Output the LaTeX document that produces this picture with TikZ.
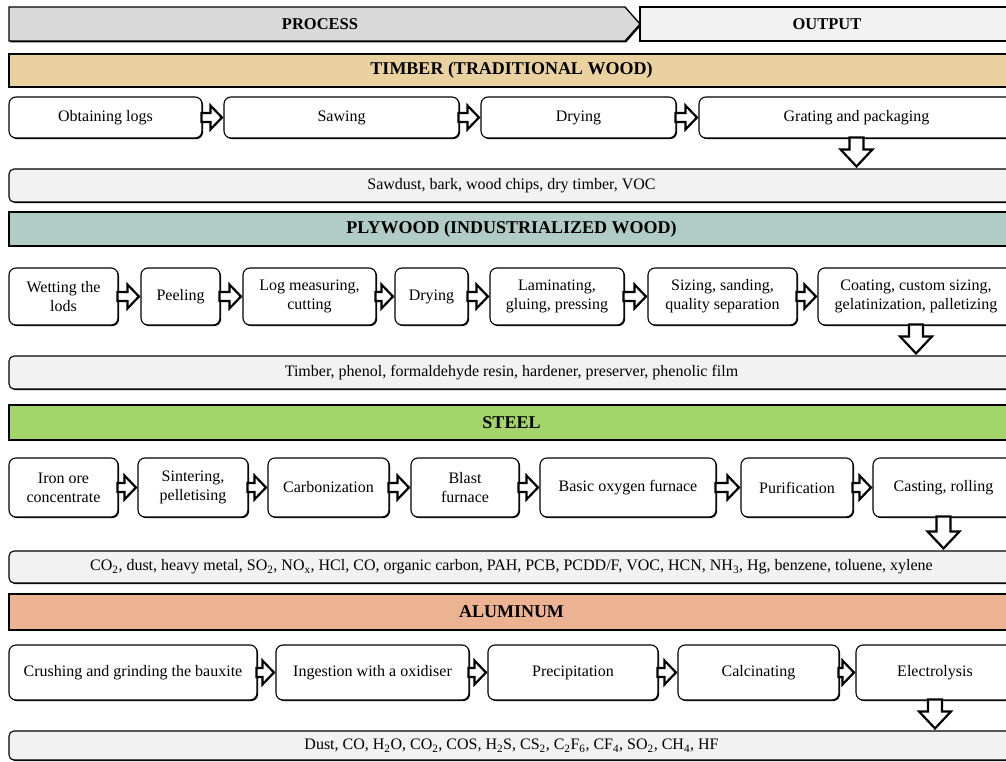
\documentclass[tikz,border=0pt]{standalone}
\usepackage{fontspec}
\setmainfont{Liberation Serif}
\usetikzlibrary{calc,shadows}

\definecolor{processgrey}{HTML}{D9D9D9}
\definecolor{outputgrey}{HTML}{F2F2F2}
\definecolor{timbertan}{HTML}{E9D1A0}
\definecolor{plywoodgreen}{HTML}{B0CCC4}
\definecolor{steelgreen}{HTML}{A4D56B}
\definecolor{aluorange}{HTML}{ECB393}

\tikzset{
  stepbox/.style={draw, fill=white, rounded corners=7pt, line width=1.1pt,
    drop shadow={shadow xshift=1.1pt, shadow yshift=-1.1pt, fill=black, opacity=1},
    align=center, inner sep=2pt, font=\fontsize{16}{19}\selectfont},
  outbox/.style={stepbox, fill=outputgrey, rounded corners=5pt},
  bar/.style={draw, line width=1.3pt,
    drop shadow={shadow xshift=1.3pt, shadow yshift=-1.3pt, fill=black, opacity=1},
    font=\bfseries\fontsize{18}{20}\selectfont},
  blockarrow/.style={draw, fill=white, line width=2.2pt, line join=miter}
}

\newcommand{\blockright}[2]{%
  \path[blockarrow] let \p1=(#1.east), \p2=(#2.west) in
    (\x1-1pt,\y1+4.5pt) -- (\x2-13pt,\y1+4.5pt) -- (\x2-13pt,\y1+12pt)
    -- (\x2-1.5pt,\y1) -- (\x2-13pt,\y1-12pt) -- (\x2-13pt,\y1-4.5pt)
    -- (\x1-1pt,\y1-4.5pt) -- cycle;}
\newcommand{\blockdown}[2]{%
  \path[blockarrow] let \p1=(#1.south), \p2=(#2.north) in
    (\x1-7pt,\y1+1pt) -- (\x1-7pt,\y2+19pt) -- (\x1-16pt,\y2+19pt)
    -- (\x1,\y2+2pt) -- (\x1+16pt,\y2+19pt) -- (\x1+7pt,\y2+19pt)
    -- (\x1+7pt,\y1+1pt) -- cycle;}

\begin{document}
\begin{tikzpicture}[x=1pt,y=-1pt]
\useasboundingbox (0,0) rectangle (1006,762);
\clip (0,0) rectangle (1006,762);

% header
\draw[bar, fill=processgrey] (9,7) -- (625,7) -- (640,24) -- (625,41) -- (9,41) -- cycle;
\node[font=\bfseries\fontsize{16.5}{19}\selectfont] (process) at (320,24) {PROCESS};
\node[bar, fill=outputgrey, minimum width=374pt, minimum height=34pt, font=\bfseries\fontsize{16.5}{19}\selectfont] (output) at (827,24) {OUTPUT};

% material bars
\node[bar, fill=timbertan, minimum width=1005pt, minimum height=33pt] (timber) at (511.5,70.5) {TIMBER (TRADITIONAL WOOD)};
\node[bar, fill=plywoodgreen, minimum width=1005pt, minimum height=34pt] (plywood) at (511.5,229) {PLYWOOD (INDUSTRIALIZED WOOD)};
\node[bar, fill=steelgreen, minimum width=1005pt, minimum height=35pt] (steel) at (511.5,422.5) {STEEL};
\node[bar, fill=aluorange, minimum width=1005pt, minimum height=36pt] (aluminum) at (511.5,612) {ALUMINUM};

% process steps
\foreach \l/\r/\n/\t in {9/202/t1/{Obtaining logs}, 224/459/t2/Sawing, 481/676/t3/Drying, 699/1014/t4/{Grating and packaging}}{
    \node[stepbox, minimum width=\r pt-\l pt, minimum height=41pt] (\n) at ({(\l+\r)/2},117.5) {\t};
}
\foreach \l/\r/\n/\t in {9/118/p1/{Wetting the\\lods}, 141/220/p2/Peeling, 243/376/p3/{Log measuring,\\cutting}, 395/468/p4/Drying, 490/624/p5/{Laminating,\\gluing, pressing}, 648/797/p6/{Sizing, sanding,\\quality separation}, 818/1014/p7/{Coating, custom sizing,\\gelatinization, palletizing}}{
    \node[stepbox, minimum width=\r pt-\l pt, minimum height=57pt] (\n) at ({(\l+\r)/2},296.5) {\t};
}
\foreach \l/\r/\n/\t in {9/118/s1/{Iron ore\\concentrate}, 138/248/s2/{Sintering,\\pelletising}, 268/389/s3/Carbonization, 411/519/s4/{Blast\\furnace}, 540/716/s5/{Basic oxygen furnace}, 741/853/s6/Purification, 873/1014/s7/{Casting, rolling}}{
    \node[stepbox, minimum width=\r pt-\l pt, minimum height=59pt] (\n) at ({(\l+\r)/2},487.5) {\t};
}
\foreach \l/\r/\n/\t in {9/257/a1/{Crushing and grinding the bauxite}, 276/469/a2/{Ingestion with a oxidiser}, 488/658/a3/Precipitation, 678/839/a4/Calcinating, 856/1014/a5/Electrolysis}{
    \node[stepbox, minimum width=\r pt-\l pt, minimum height=55pt] (\n) at ({(\l+\r)/2},672.5) {\t};
}

% outputs
\node[outbox, minimum width=1005pt, minimum height=33pt] (o1) at (511.5,185.5) {Sawdust, bark, wood chips, dry timber, VOC};
\node[outbox, minimum width=1005pt, minimum height=33pt] (o2) at (511.5,372.5) {Timber, phenol, formaldehyde resin, hardener, preserver, phenolic film};
\node[outbox, minimum width=1005pt, minimum height=32pt] (o3) at (511.5,567) {CO\textsubscript{2}, dust, heavy metal, SO\textsubscript{2}, NO\textsubscript{x}, HCl, CO, organic carbon, PAH, PCB, PCDD/F, VOC, HCN, NH\textsubscript{3}, Hg, benzene, toluene, xylene};
\node[outbox, minimum width=1005pt, minimum height=29pt] (o4) at (511.5,745.5) {Dust, CO, H\textsubscript{2}O, CO\textsubscript{2}, COS, H\textsubscript{2}S, CS\textsubscript{2}, C\textsubscript{2}F\textsubscript{6}, CF\textsubscript{4}, SO\textsubscript{2}, CH\textsubscript{4}, HF};

% arrows
\foreach \a/\b in {t1/t2,t2/t3,t3/t4,p1/p2,p2/p3,p3/p4,p4/p5,p5/p6,p6/p7,s1/s2,s2/s3,s3/s4,s4/s5,s5/s6,s6/s7,a1/a2,a2/a3,a3/a4,a4/a5}{
    \blockright{\a}{\b}
}
\blockdown{t4}{o1}
\blockdown{p7}{o2}
\blockdown{s7}{o3}
\blockdown{a5}{o4}

\end{tikzpicture}
\end{document}
